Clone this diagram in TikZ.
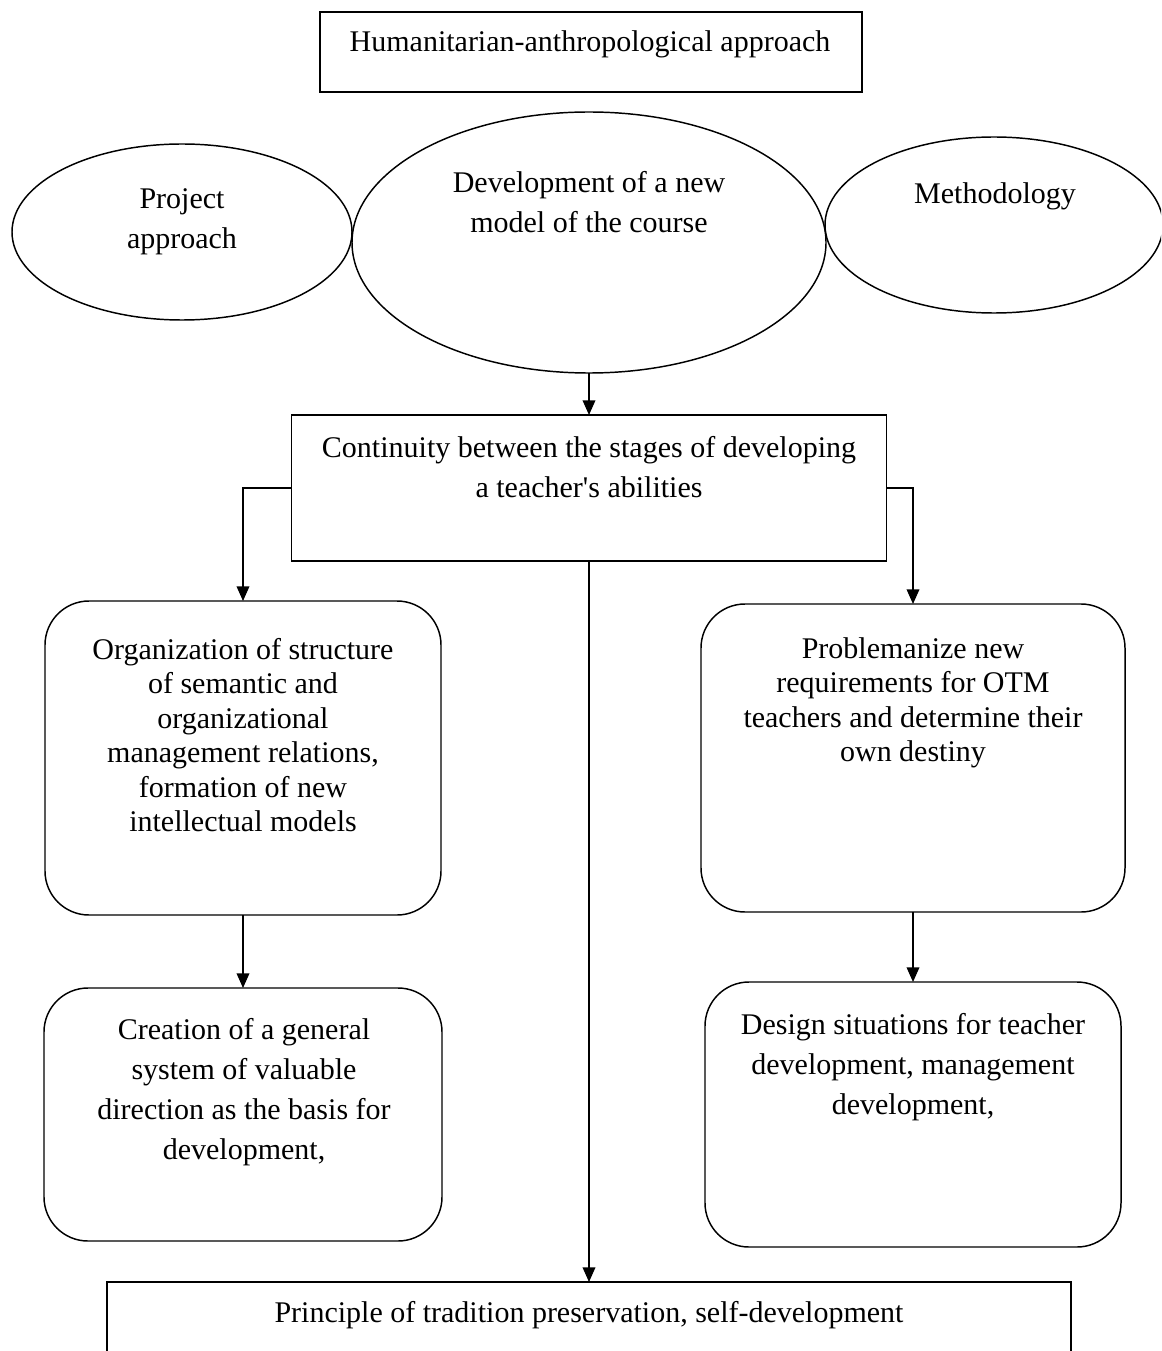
\documentclass[tikz,border=0pt]{standalone}
\usepackage{fontspec}
\setmainfont{Liberation Serif}
\usetikzlibrary{shapes.geometric,arrows.meta}
\begin{document}
\begin{tikzpicture}[x=0.75pt,y=-0.75pt,
  line width=1.1pt,
  every node/.style={inner sep=0pt,outer sep=0pt},
  sqbox/.style={draw,rectangle},
  rbox/.style={draw,rectangle,rounded corners=33pt},
  ell/.style={draw,ellipse},
  txt/.style={align=center,font=\fontsize{22.5pt}{25.9pt}\selectfont},
  txtw/.style={align=center,font=\fontsize{22.5pt}{30pt}\selectfont},
  arr/.style={-{Triangle[length=11pt,width=9.5pt]}}
]
\useasboundingbox (0,0) rectangle (1161,1351);
\clip (0,0) rectangle (1161,1351);
\fill[white] (0,0) rectangle (1161,1351);

% top box
\node[sqbox,minimum width=542*0.75pt,minimum height=80*0.75pt] (top) at (591,52) {};
\node[txt] (toptxt) at (590,44) {Humanitarian-anthropological approach};

% ellipses
\node[ell,minimum width=340*0.75pt,minimum height=176*0.75pt] (eleft) at (182,232) {};
\node[txtw] (elefttxt) at (182,222) {Project\\approach};
\node[ell,minimum width=474*0.75pt,minimum height=261*0.75pt] (emid) at (589,242.5) {};
\node[txtw] (emidtxt) at (589,202) {Development of a new\\model of the course};
\node[ell,minimum width=338*0.75pt,minimum height=176*0.75pt] (eright) at (994,225) {};
\node[txt] (erighttxt) at (995,196) {Methodology};

% continuity box
\node[sqbox,minimum width=595*0.75pt,minimum height=146*0.75pt] (cont) at (589,488) {};
\node[txtw] (conttxt) at (589,467) {Continuity between the stages of developing\\a teacher\textquotesingle s abilities};

% left column
\node[rbox,minimum width=396*0.75pt,minimum height=314*0.75pt] (l1) at (243,758) {};
\node[txt] (l1txt) at (243,735) {Organization of structure\\of semantic and\\organizational\\management relations,\\formation of new\\intellectual models};
\node[rbox,minimum width=398*0.75pt,minimum height=253*0.75pt] (l2) at (243,1114.5) {};
\node[txtw] (l2txt) at (244,1092) {Creation of a general\\system of valuable\\direction as the basis for\\development,};

% right column
\node[rbox,minimum width=424*0.75pt,minimum height=308*0.75pt] (r1) at (913,758) {};
\node[txt] (r1txt) at (913,703) {Problemanize new\\requirements for OTM\\teachers and determine their\\own destiny};
\node[rbox,minimum width=416*0.75pt,minimum height=265*0.75pt] (r2) at (913,1114.5) {};
\node[txtw] (r2txt) at (913,1067) {Design situations for teacher\\development, management\\development,};

% bottom box (cut off at the lower edge)
\node[sqbox,minimum width=964*0.75pt,minimum height=120*0.75pt] (bot) at (589,1342) {};
\node[txt] (bottxt) at (589,1315) {Principle of tradition preservation, self-development};

% connectors
\draw[arr] (emid.south) -- (cont.north);
\draw[arr] (cont.west |- 0,488) -| (l1.north);
\draw[arr] (cont.east |- 0,488) -| (r1.north);
\draw[arr] (cont.south) -- (bot.north);
\draw[arr] (l1.south) -- (l2.north);
\draw[arr] (r1.south) -- (r2.north);
\end{tikzpicture}
\end{document}
